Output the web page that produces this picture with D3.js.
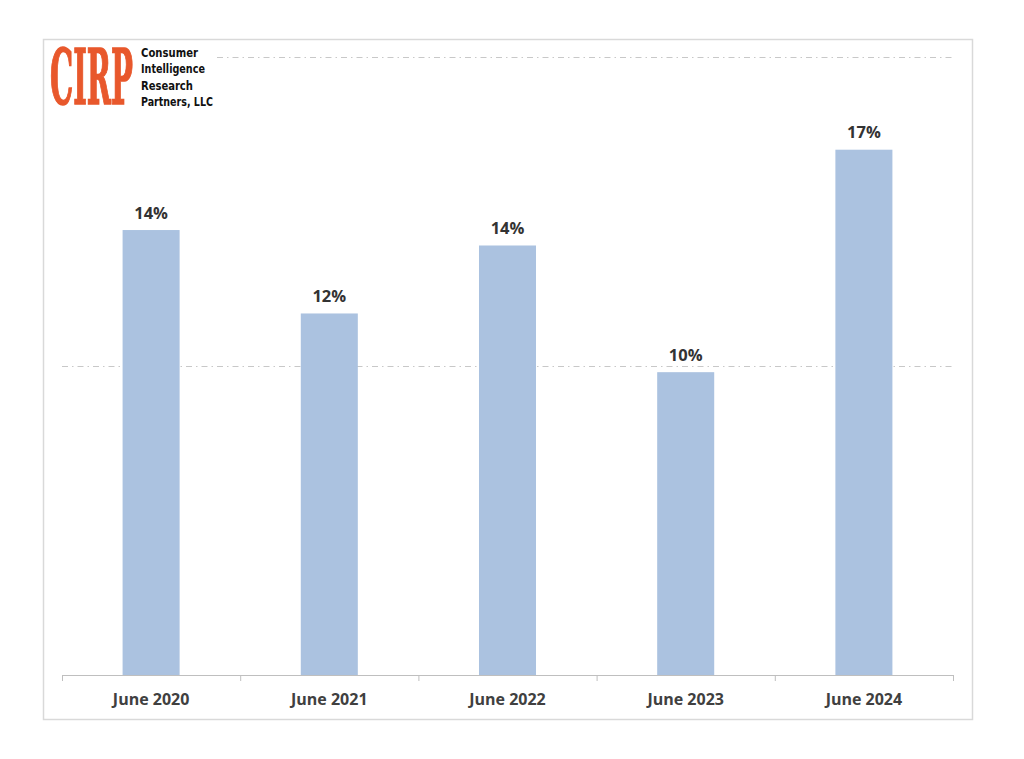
<!DOCTYPE html>
<html><head><meta charset="utf-8">
<script src="https://cdn.jsdelivr.net/npm/d3@7"></script>
<style>body{margin:0;background:#fff;}svg{display:block;}</style>
</head><body>
<svg id="c" width="1024" height="759"></svg>
<script>
const categories = ["June 2020","June 2021","June 2022","June 2023","June 2024"];
const values = [14.4, 11.7, 13.9, 9.8, 17.0];
const valueLabels = ["14%","12%","14%","10%","17%"];
const gridTicks = [10, 20];
const logoLines = ["Consumer","Intelligence","Research","Partners, LLC"];

(function(){
const svg = d3.select("#c");
const pl = 62, pr = 953, pt = 57, pb = 675;
const x = d3.scaleBand().domain(categories).range([pl, pr]).paddingInner(0.68).paddingOuter(0.34);
const y = d3.scaleLinear().domain([0, 20]).range([pb, pt]);
const xb = d3.scaleBand().domain(categories).range([pl, pr]);

svg.append("rect").attr("x",43.5).attr("y",39.5).attr("width",929).attr("height",680)
  .attr("fill","#fff").attr("stroke","#d9d9d9").attr("stroke-width",1.5);

svg.append("g").selectAll("line").data(gridTicks).join("line")
  .attr("x1",pl).attr("x2",pr).attr("y1",d=>Math.round(y(d))+0.5).attr("y2",d=>Math.round(y(d))+0.5)
  .attr("stroke","#c8c8c8").attr("stroke-width",1).attr("stroke-dasharray","6,4,1.5,4");

svg.append("g").selectAll("rect").data(values).join("rect")
  .attr("x",(d,i)=>x(categories[i])).attr("width",x.bandwidth())
  .attr("y",d=>y(d)).attr("height",d=>y(0)-y(d)).attr("fill","#abc2e0");

svg.append("g").selectAll("text").data(values).join("text")
  .attr("x",(d,i)=>x(categories[i])+x.bandwidth()/2).attr("y",d=>y(d)-11.5)
  .attr("text-anchor","middle").attr("font-family","'Open Sans', sans-serif").attr("font-weight","bold")
  .attr("font-size",16.5).attr("fill","#333").text((d,i)=>valueLabels[i]);

const ax = svg.append("g");
ax.append("line").attr("x1",pl).attr("x2",pr).attr("y1",pb+0.5).attr("y2",pb+0.5).attr("stroke","#bfbfbf").attr("stroke-width",1.2);
const bounds = categories.map(c=>xb(c)).concat([pr]);
ax.selectAll("line.t").data(bounds).join("line").attr("class","t")
  .attr("x1",d=>d+0.5).attr("x2",d=>d+0.5).attr("y1",pb).attr("y2",pb+6).attr("stroke","#bfbfbf");
ax.selectAll("text").data(categories).join("text")
  .attr("x",d=>xb(d)+xb.bandwidth()/2).attr("y",pb+29.5)
  .attr("text-anchor","middle").attr("font-family","'Open Sans', sans-serif").attr("font-weight","bold")
  .attr("font-size",16).attr("fill","#404040").text(d=>d);

// logo: condensed via horizontal scale so bounding boxes stay accurate
function squeeze(sel, x0, y0, w){
  const len = sel.node().getComputedTextLength();
  sel.attr("x",0).attr("y",0).attr("transform",`translate(${x0},${y0}) scale(${w/len},1)`);
}
const lg = svg.append("g");
lg.append("rect").attr("x",46).attr("y",42).attr("width",170).attr("height",68).attr("fill","#fff");
const cirp = lg.append("text").attr("font-family","'DejaVu Serif Condensed','DejaVu Serif',serif")
  .attr("font-weight","bold").attr("font-size",76).attr("fill","#e8582c")
  .attr("stroke","#e8582c").attr("stroke-width",1.5).text("CIRP");
squeeze(cirp, 50, 104, 83);
const lw = [57, 64, 52, 72];
logoLines.forEach((t,i)=>{
  const s = lg.append("text").attr("font-family","'Liberation Sans Narrow','DejaVu Sans Condensed',sans-serif")
    .attr("font-weight","bold").attr("font-size",13).attr("fill","#111").text(t);
  squeeze(s, 141, 57+i*16.3, lw[i]);
});
})();
</script>
</body></html>
